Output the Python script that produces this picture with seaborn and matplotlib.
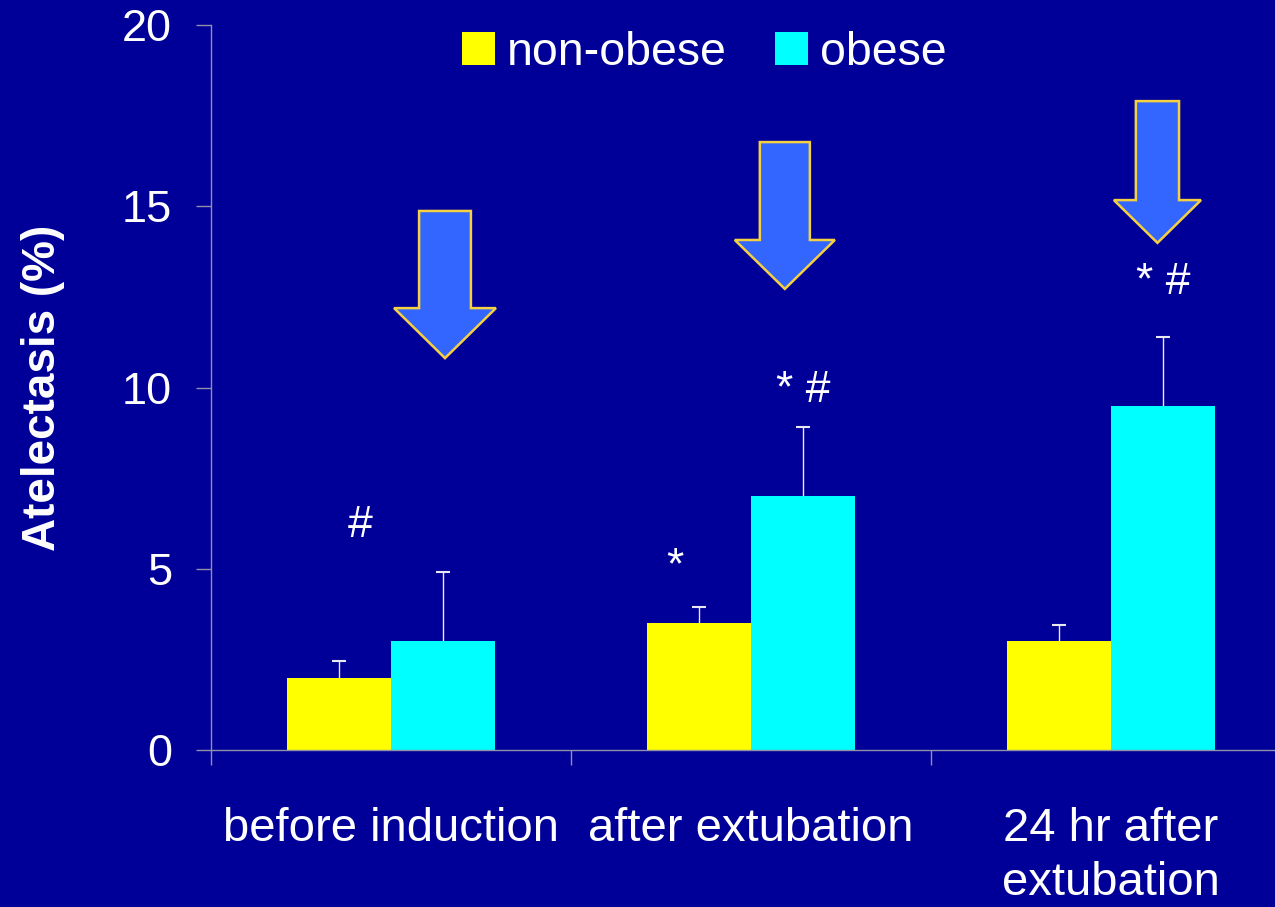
import numpy as np
import pandas as pd
import matplotlib
matplotlib.use('Agg')
import matplotlib.pyplot as plt
import seaborn as sns
from matplotlib.patches import FancyArrow

# data
categories = ['before induction', 'after extubation', '24 hr after\nextubation']
groups = ['non-obese', 'obese']
non_obese = [2.0, 3.5, 3.0]
obese = [3.0, 7.0, 9.5]
non_obese_err = [0.45, 0.45, 0.45]
obese_err = [1.9, 1.9, 1.9]

# significance marks
marks = ['#', '*', '* #', '* #']
mark_x = [-0.086, 0.789, 1.144, 2.144]
mark_y = [5.88, 4.74, 9.6, 12.58]

# decorative down arrows (x centre, top, head base, tip, shaft width, head width)
arrow_x = [0.15, 1.094, 2.129]
arrow_top = [14.87, 16.77, 17.90]
arrow_base = [12.19, 14.07, 15.17]
arrow_tip = [10.81, 12.72, 13.99]
arrow_w = [0.144, 0.139, 0.12]
arrow_hw = [0.283, 0.278, 0.242]

BG = '#000099'
AXC = '#9090a8'
colors = {'non-obese': '#FFFF00', 'obese': '#00FFFF'}

df = pd.DataFrame({
    'phase': categories * 2,
    'group': ['non-obese'] * 3 + ['obese'] * 3,
    'value': non_obese + obese,
})

plt.rcParams['font.family'] = ['Liberation Sans', 'DejaVu Sans']

fig = plt.figure(figsize=(12.75, 9.07), dpi=100, facecolor=BG)
ax = fig.add_axes([211 / 1275, 157 / 907, 1080 / 1275, 725 / 907])
ax.set_facecolor(BG)

sns.barplot(data=df, x='phase', y='value', hue='group', order=categories,
            hue_order=groups, palette=colors, saturation=1, width=0.578,
            errorbar=None, ax=ax, zorder=2)

# upper-only error bars (hide the cap at the bar top)
for cont, errs in zip(ax.containers, [non_obese_err, obese_err]):
    xs = [p.get_x() + p.get_width() / 2 for p in cont]
    hs = [p.get_height() for p in cont]
    eb = ax.errorbar(xs, hs, yerr=[np.zeros(len(errs)), errs], fmt='none',
                     ecolor='#e8e8f0', elinewidth=1.0, capsize=5, capthick=1.5, zorder=1)
    for cap in eb[1]:
        if np.allclose(cap.get_ydata(), hs):
            cap.set_visible(False)

for x, top, base, tip, w, hw in zip(arrow_x, arrow_top, arrow_base, arrow_tip, arrow_w, arrow_hw):
    ax.add_patch(FancyArrow(x, top, 0, tip - top, width=w, head_width=hw,
                            head_length=base - tip, length_includes_head=True,
                            fc='#3366FF', ec='#F5D040', lw=1.8, zorder=4))

for txt, x, y in zip(marks, mark_x, mark_y):
    ax.text(x, y, txt, color='white', fontsize=32, ha='center', va='baseline')

ax.set_xlim(-0.5, 2.5)
ax.set_ylim(0, 20)

for s in ['top', 'right']:
    ax.spines[s].set_visible(False)
for s in ['left', 'bottom']:
    ax.spines[s].set_color(AXC)
    ax.spines[s].set_linewidth(1.0)

ax.set_yticks([0, 5, 10, 15, 20])
ax.tick_params(axis='y', colors=AXC, labelcolor='white', labelsize=32.5,
               length=11, width=1, pad=17)

ax.set_xticks([0, 1, 2])
ax.set_xticklabels(categories, linespacing=1.3)
ax.set_xticks([-0.5, 0.5, 1.5], minor=True)
ax.tick_params(axis='x', which='major', length=0, labelcolor='white',
               labelsize=34, pad=41)
ax.tick_params(axis='x', which='minor', length=11, width=1, colors=AXC)

ax.set_xlabel('')
ax.set_ylabel('Atelectasis (%)', fontsize=33, fontweight='bold', color='white', va='center')
ax.yaxis.set_label_coords(-0.156, 0.499)

handles, labels = ax.get_legend_handles_labels()
ax.legend(handles, labels, loc='center left', bbox_to_anchor=(462 / 1275, 1 - 53 / 907),
          bbox_transform=fig.transFigure, ncol=2, frameon=False, fontsize=33.5,
          handlelength=0.7, handleheight=0.7, handletextpad=0.26,
          columnspacing=1.05, borderpad=0, borderaxespad=0, labelcolor='white')

fig.savefig('out.png', dpi=100, facecolor=BG)
